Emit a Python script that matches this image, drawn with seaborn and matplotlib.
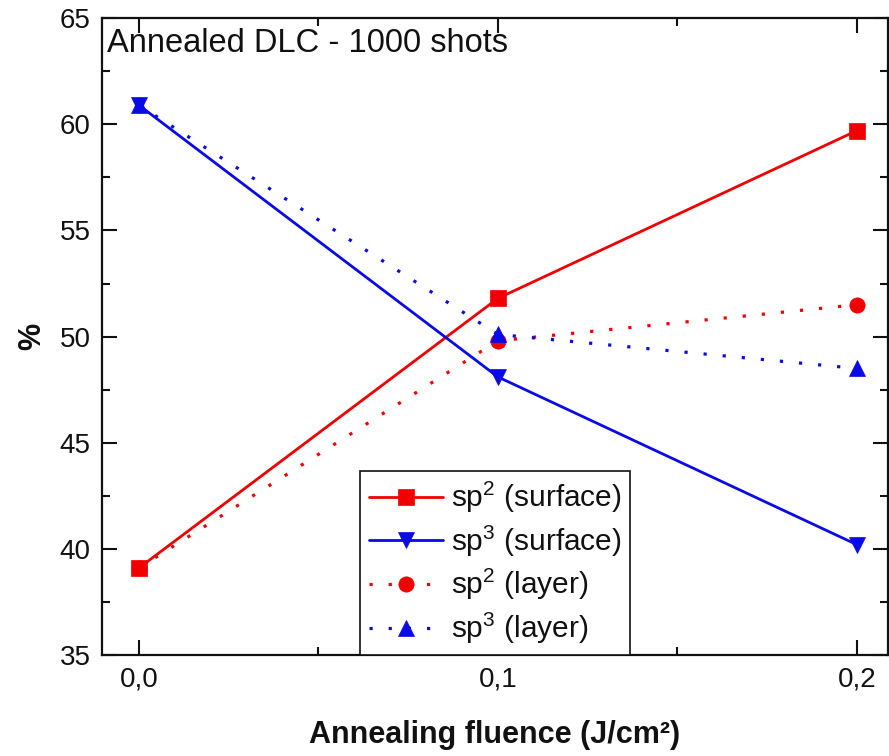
import matplotlib
matplotlib.use("Agg")
import matplotlib.pyplot as plt
import seaborn as sns
import pandas as pd
from matplotlib.ticker import MultipleLocator, FuncFormatter

fluence = [0.0, 0.1, 0.2]
sp2_surface = [39.1, 51.8, 59.7]
sp3_surface = [60.9, 48.1, 40.2]
sp2_layer = [39.1, 49.8, 51.5]
sp3_layer = [60.9, 50.1, 48.5]
series_labels = [r"sp$^2$ (surface)", r"sp$^3$ (surface)", r"sp$^2$ (layer)", r"sp$^3$ (layer)"]
title_text = "Annealed DLC - 1000 shots"
xlabel = "Annealing fluence (J/cm²)"
ylabel = "%"

sns.set_theme(style="ticks")
plt.rcParams["font.family"] = ["Liberation Sans", "DejaVu Sans"]
plt.rcParams["mathtext.fontset"] = "custom"
plt.rcParams["mathtext.rm"] = "Liberation Sans"
plt.rcParams["mathtext.it"] = "Liberation Sans"
for k in ["text.color", "axes.labelcolor", "xtick.color", "ytick.color", "axes.edgecolor"]:
    plt.rcParams[k] = "#111111"

fig = plt.figure(figsize=(8.89, 7.56), dpi=100)
ax = fig.add_axes([0.1147, 0.1336, 0.9985 - 0.1147, 0.976 - 0.1336])

red = "#f00000"
blue = "#0a0ae6"
dot = (0, (1, 5.0))
specs = [
    (sp2_surface, red, "s", "-", 11),
    (sp3_surface, blue, "v", "-", 12),
    (sp2_layer, red, "o", dot, 11),
    (sp3_layer, blue, "^", dot, 12),
]
for (vals, col, mk, ls, ms), lab in zip(specs, series_labels):
    df = pd.DataFrame({"x": fluence, "y": vals})
    sns.lineplot(data=df, x="x", y="y", ax=ax, color=col, marker=mk, linestyle=ls,
                 linewidth=2.3 if ls == dot else 2.0, markersize=ms, mec=col, mew=0.5,
                 label=lab, legend=False)

ax.set_xlim(-0.0103, 0.2086)
ax.set_ylim(35, 65)
ax.xaxis.set_major_locator(MultipleLocator(0.1))
ax.xaxis.set_minor_locator(MultipleLocator(0.05))
ax.yaxis.set_major_locator(MultipleLocator(5))
ax.yaxis.set_minor_locator(MultipleLocator(2.5))
ax.xaxis.set_major_formatter(FuncFormatter(lambda v, p: f"{v:.1f}".replace(".", ",")))
ax.tick_params(which="both", direction="in", top=True, right=True, width=1.5)
ax.tick_params(which="major", length=11, labelsize=20, pad=8)
ax.tick_params(which="minor", length=6)
for s in ax.spines.values():
    s.set_linewidth(1.6)

ax.set_xlabel(xlabel, fontsize=22, fontweight="bold", labelpad=20)
ax.set_ylabel(ylabel, fontsize=22, fontweight="bold", labelpad=9)
ax.text(0.006, 0.984, title_text, transform=ax.transAxes, ha="left", va="top", fontsize=23.5)

leg = ax.legend(loc="lower left", bbox_to_anchor=(0.328, 0.0), borderaxespad=0,
                fontsize=21.5, frameon=True, fancybox=False, framealpha=1, edgecolor="#111111",
                handlelength=2.5, handletextpad=0.25, labelspacing=0.28, borderpad=0.3)
leg.get_frame().set_linewidth(1.2)
leg.set_zorder(5)

fig.savefig("out.png", dpi=100)
